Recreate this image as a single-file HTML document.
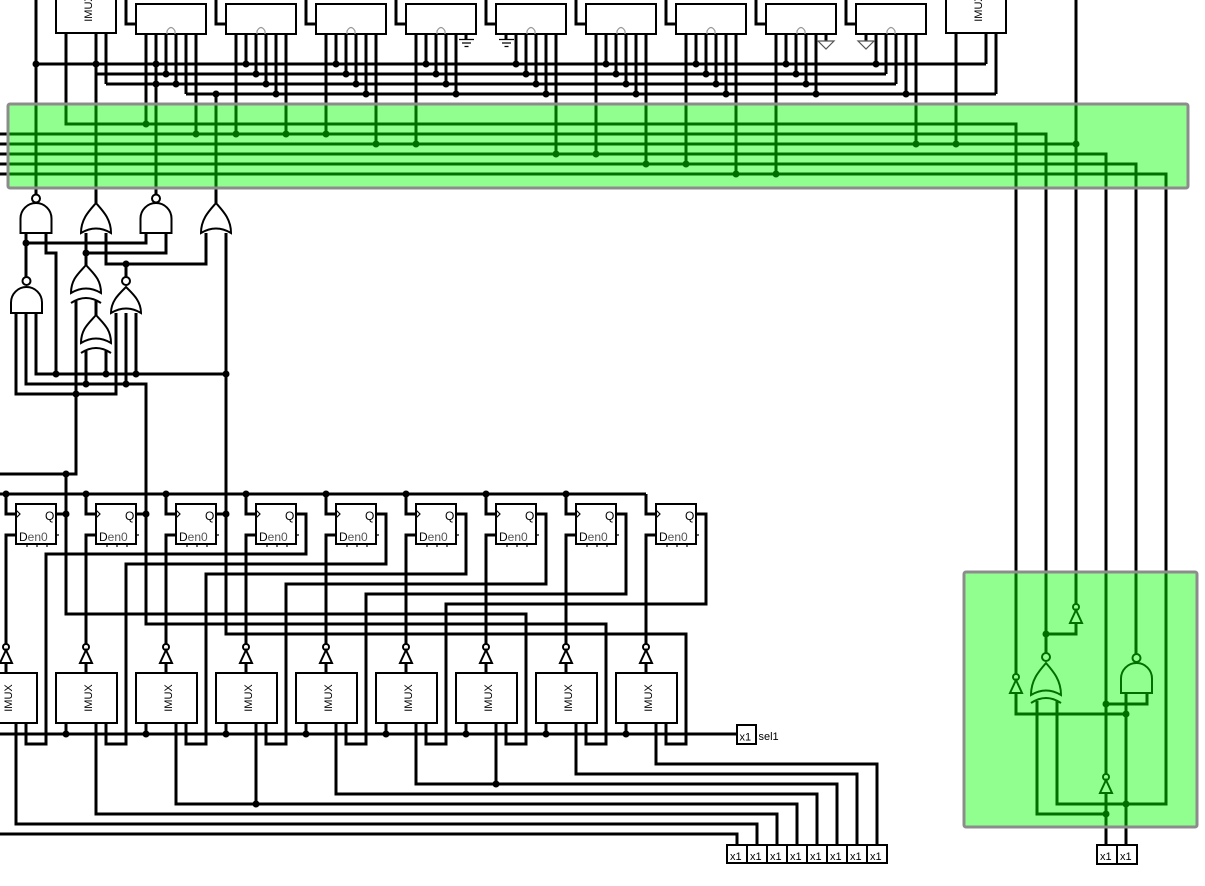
<!DOCTYPE html>
<html><head><meta charset="utf-8"><style>
html,body{margin:0;padding:0;background:#fff;width:1205px;height:886px;overflow:hidden}
svg{display:block}
.w{fill:none;stroke:#000;stroke-width:3;stroke-linejoin:miter}
.b{fill:#fff;stroke:#000;stroke-width:2}
.th{fill:none;stroke:#000;stroke-width:1.2}
.ar{fill:none;stroke:#999;stroke-width:1.2}
.t{font-family:"Liberation Sans",sans-serif;font-size:11px;fill:#000}
.f{font-family:"Liberation Sans",sans-serif;font-size:12px;fill:#000}
</style></head><body>
<svg width="1205" height="886" viewBox="0 0 1205 886" xmlns="http://www.w3.org/2000/svg">
<!-- TOP WIRES -->
<path class="w" d="M36,0V194 M126,0V24H136 M216,0V24H226 M306,0V24H316 M396,0V24H406 M486,0V24H496 M576,0V24H586 M666,0V24H676 M756,0V24H766 M846,0V24H856"/>
<path class="w" d="M146,34V124 M156,34V194 M166,34V74 M176,34V84 M186,34V94 M196,34V134
M236,34V134 M246,34V64 M256,34V74 M266,34V84 M276,34V94 M286,34V134
M326,34V134 M336,34V64 M346,34V74 M356,34V84 M366,34V94 M376,34V144
M416,34V144 M426,34V64 M436,34V74 M446,34V84 M456,34V94 M466,34V39
M506,34V39 M516,34V64 M526,34V74 M536,34V84 M546,34V94 M556,34V154
M596,34V154 M606,34V64 M616,34V74 M626,34V84 M636,34V94 M646,34V164
M686,34V164 M696,34V64 M706,34V74 M716,34V84 M726,34V94 M736,34V174
M776,34V174 M786,34V64 M796,34V74 M806,34V84 M816,34V94 M826,34V41
M866,34V41 M876,34V64 M886,34V74 M896,34V84 M906,34V94 M916,34V144
M956,33V144 M986,33V64 M996,33V94
M36,64H986 M96,74H886 M106,84H896 M186,94H996
M66,33V124H1016V674 M96,33V203 M106,33V84 M216,94V203"/>
<!-- green bus lines -->
<path class="w" d="M0,134H1046V653 M0,144H1076 M0,154H1106V774 M1106,793V845 M0,164H1136V654 M0,174H1166V804H1057V701 M1076,0V604"/>
<!-- right box wires -->
<path class="w" d="M1016,693V714H1126 M1046,634H1076V623 M1037,701V814H1106 M1126,693V845 M1147,693V704H1106"/>
<!-- gate region wires -->
<path class="w" d="M26,233V277 M26,243H146V233 M46,233V253H56V374 M166,233V253H86 M86,233V265 M106,233V264H206V233 M126,264V277
M226,233V634H686V744H666V723 M16,313V394H116V313 M26,313V384H146V624H606V744H586V723 M36,313V374H226
M76,301V474H0 M66,474V614H526V744H506V723 M96,301V315 M86,351V384 M106,351V374 M126,313V384 M136,313V374"/>
<!-- FF wires -->
<path class="w" d="M0,494H646
M6,494V514H16 M16,535H6V644 M56,514H66
M86,494V514H96 M96,535H86V644 M136,514H146
M166,494V514H176 M176,535H166V644 M216,514H226
M246,494V514H256 M256,535H246V644 M296,514H306V554H46V744H26V723
M326,494V514H336 M336,535H326V644 M376,514H386V564H126V744H106V723
M406,494V514H416 M416,535H406V644 M456,514H466V574H206V744H186V723
M486,494V514H496 M496,535H486V644 M536,514H546V584H286V744H266V723
M566,494V514H576 M576,535H566V644 M616,514H626V594H366V744H346V723
M646,494V514H656 M656,535H646V644 M696,514H706V604H446V744H426V723"/>
<!-- MUX wires -->
<path class="w" d="M0,734H737 M66,723V734 M146,723V734 M226,723V734 M306,723V734 M386,723V734 M466,723V734 M546,723V734 M626,723V734
M6,663V673 M86,663V673 M166,663V673 M246,663V673 M326,663V673 M406,663V673 M486,663V673 M566,663V673 M646,663V673
M16,723V824H757V845 M96,723V814H777V845 M176,723V804H797V845 M256,723V804 M336,723V794H817V845
M416,723V784H837V845 M496,723V784 M576,723V774H857V845 M656,723V764H877V845 M0,834H737V845"/>

<!-- DOTS -->
<g fill="#000">
<circle cx="36" cy="64" r="3.5"/><circle cx="96" cy="64" r="3.5"/><circle cx="156" cy="64" r="3.5"/><circle cx="246" cy="64" r="3.5"/><circle cx="336" cy="64" r="3.5"/><circle cx="426" cy="64" r="3.5"/><circle cx="516" cy="64" r="3.5"/><circle cx="606" cy="64" r="3.5"/><circle cx="696" cy="64" r="3.5"/><circle cx="786" cy="64" r="3.5"/><circle cx="876" cy="64" r="3.5"/>
<circle cx="166" cy="74" r="3.5"/><circle cx="256" cy="74" r="3.5"/><circle cx="346" cy="74" r="3.5"/><circle cx="436" cy="74" r="3.5"/><circle cx="526" cy="74" r="3.5"/><circle cx="616" cy="74" r="3.5"/><circle cx="706" cy="74" r="3.5"/><circle cx="796" cy="74" r="3.5"/>
<circle cx="156" cy="84" r="3.5"/><circle cx="176" cy="84" r="3.5"/><circle cx="266" cy="84" r="3.5"/><circle cx="356" cy="84" r="3.5"/><circle cx="446" cy="84" r="3.5"/><circle cx="536" cy="84" r="3.5"/><circle cx="626" cy="84" r="3.5"/><circle cx="716" cy="84" r="3.5"/><circle cx="806" cy="84" r="3.5"/>
<circle cx="216" cy="94" r="3.5"/><circle cx="276" cy="94" r="3.5"/><circle cx="366" cy="94" r="3.5"/><circle cx="456" cy="94" r="3.5"/><circle cx="546" cy="94" r="3.5"/><circle cx="636" cy="94" r="3.5"/><circle cx="726" cy="94" r="3.5"/><circle cx="816" cy="94" r="3.5"/><circle cx="906" cy="94" r="3.5"/>
<circle cx="146" cy="124" r="3.5"/><circle cx="196" cy="134" r="3.5"/><circle cx="236" cy="134" r="3.5"/><circle cx="286" cy="134" r="3.5"/><circle cx="326" cy="134" r="3.5"/>
<circle cx="376" cy="144" r="3.5"/><circle cx="416" cy="144" r="3.5"/><circle cx="916" cy="144" r="3.5"/><circle cx="956" cy="144" r="3.5"/><circle cx="1076" cy="144" r="3.5"/>
<circle cx="556" cy="154" r="3.5"/><circle cx="596" cy="154" r="3.5"/><circle cx="646" cy="164" r="3.5"/><circle cx="686" cy="164" r="3.5"/><circle cx="736" cy="174" r="3.5"/><circle cx="776" cy="174" r="3.5"/>
<circle cx="26" cy="243" r="3.5"/><circle cx="86" cy="253" r="3.5"/><circle cx="126" cy="264" r="3.5"/><circle cx="76" cy="394" r="3.5"/><circle cx="86" cy="384" r="3.5"/><circle cx="126" cy="384" r="3.5"/><circle cx="56" cy="374" r="3.5"/><circle cx="106" cy="374" r="3.5"/><circle cx="136" cy="374" r="3.5"/><circle cx="226" cy="374" r="3.5"/><circle cx="66" cy="474" r="3.5"/>
<circle cx="6" cy="494" r="3.5"/><circle cx="86" cy="494" r="3.5"/><circle cx="166" cy="494" r="3.5"/><circle cx="246" cy="494" r="3.5"/><circle cx="326" cy="494" r="3.5"/><circle cx="406" cy="494" r="3.5"/><circle cx="486" cy="494" r="3.5"/><circle cx="566" cy="494" r="3.5"/>
<circle cx="66" cy="514" r="3.5"/><circle cx="146" cy="514" r="3.5"/><circle cx="226" cy="514" r="3.5"/>
<circle cx="66" cy="734" r="3.5"/><circle cx="146" cy="734" r="3.5"/><circle cx="226" cy="734" r="3.5"/><circle cx="306" cy="734" r="3.5"/><circle cx="386" cy="734" r="3.5"/><circle cx="466" cy="734" r="3.5"/><circle cx="546" cy="734" r="3.5"/><circle cx="626" cy="734" r="3.5"/>
<circle cx="256" cy="804" r="3.5"/><circle cx="496" cy="784" r="3.5"/>
<circle cx="1046" cy="634" r="3.5"/><circle cx="1126" cy="714" r="3.5"/><circle cx="1106" cy="704" r="3.5"/><circle cx="1126" cy="804" r="3.5"/><circle cx="1106" cy="814" r="3.5"/>
</g>

<!-- TOP BOXES -->
<rect class="b" x="56" y="-20" width="60" height="53"/>
<text class="t" transform="translate(92,8) rotate(-90)" text-anchor="middle">IMUX</text>
<rect class="b" x="946" y="-20" width="60" height="53"/>
<text class="t" transform="translate(982,8) rotate(-90)" text-anchor="middle">IMUX</text>
<g>
<rect class="b" x="136" y="4" width="70" height="30"/><rect class="b" x="226" y="4" width="70" height="30"/><rect class="b" x="316" y="4" width="70" height="30"/><rect class="b" x="406" y="4" width="70" height="30"/><rect class="b" x="496" y="4" width="70" height="30"/><rect class="b" x="586" y="4" width="70" height="30"/><rect class="b" x="676" y="4" width="70" height="30"/><rect class="b" x="766" y="4" width="70" height="30"/><rect class="b" x="856" y="4" width="70" height="30"/>
</g>
<path class="ar" d="M167,34V31Q171,24 175,31V34 M257,34V31Q261,24 265,31V34 M347,34V31Q351,24 355,31V34 M437,34V31Q441,24 445,31V34 M527,34V31Q531,24 535,31V34 M617,34V31Q621,24 625,31V34 M707,34V31Q711,24 715,31V34 M797,34V31Q801,24 805,31V34 M887,34V31Q891,24 895,31V34"/>
<!-- grounds -->
<path class="th" d="M459,39.5H474 M462,43H471 M464.5,46.5H468.5 M499,39.5H514 M502,43H511 M504.5,46.5H508.5"/>
<polygon points="818,41 834,41 826,49" fill="#fff" stroke="#555" stroke-width="1.2"/>
<polygon points="858,41 874,41 866,49" fill="#fff" stroke="#555" stroke-width="1.2"/>

<!-- GATES -->
<g fill="#fff" stroke="#000" stroke-width="2">
<path d="M20.5,233V218.5A15.5,15.5 0 0 1 51.5,218.5V233Z"/><circle cx="36" cy="198.5" r="4"/>
<path d="M140.5,233V218.5A15.5,15.5 0 0 1 171.5,218.5V233Z"/><circle cx="156" cy="198.5" r="4"/>
<path d="M11,313V302.5A15.5,15.5 0 0 1 42,302.5V313Z"/><circle cx="26.5" cy="281" r="4"/>
<path d="M81,233C81,219 89,211 96,203C103,211 111,219 111,233Q96,224 81,233Z"/>
<path d="M201,233C201,219 209,211 216,203C223,211 231,219 231,233Q216,224 201,233Z"/>
<path d="M71,293C71,279 79,273 86,265C93,273 101,279 101,293Q86,284 71,293Z"/><path d="M71,303Q86,293 101,303" fill="none"/>
<path d="M81,343C81,329 89,323 96,315C103,323 111,329 111,343Q96,334 81,343Z"/><path d="M81,353Q96,343 111,353" fill="none"/>
<path d="M111,313C111,301 119,294 126,287C133,294 141,301 141,313Q126,304 111,313Z"/><circle cx="126" cy="281" r="4"/>
<!-- right box gates -->
<path d="M1121,693V678.5A15.5,15.5 0 0 1 1152,678.5V693Z"/><circle cx="1136.5" cy="658" r="4"/>
<path d="M1031,695C1031,680 1039,671 1046,663C1053,671 1061,680 1061,695Q1046,686 1031,695Z"/><path d="M1031,703Q1046,693 1061,703" fill="none"/><circle cx="1046" cy="657" r="4"/>
<circle cx="1016" cy="677" r="3"/><polygon points="1016,680 1010,693 1022,693"/>
<circle cx="1076" cy="607" r="3"/><polygon points="1076,610 1070,623 1082,623"/>
<circle cx="1106" cy="777" r="3"/><polygon points="1106,780 1100,793 1112,793"/>
<!-- MUX inverters -->
<circle cx="6" cy="647" r="3"/><polygon points="6,650 0,663 12,663"/>
<circle cx="86" cy="647" r="3"/><polygon points="86,650 80,663 92,663"/>
<circle cx="166" cy="647" r="3"/><polygon points="166,650 160,663 172,663"/>
<circle cx="246" cy="647" r="3"/><polygon points="246,650 240,663 252,663"/>
<circle cx="326" cy="647" r="3"/><polygon points="326,650 320,663 332,663"/>
<circle cx="406" cy="647" r="3"/><polygon points="406,650 400,663 412,663"/>
<circle cx="486" cy="647" r="3"/><polygon points="486,650 480,663 492,663"/>
<circle cx="566" cy="647" r="3"/><polygon points="566,650 560,663 572,663"/>
<circle cx="646" cy="647" r="3"/><polygon points="646,650 640,663 652,663"/>
</g>

<!-- FLIP FLOPS -->
<g>
<rect class="b" x="16" y="504" width="40" height="40"/><rect class="b" x="96" y="504" width="40" height="40"/><rect class="b" x="176" y="504" width="40" height="40"/><rect class="b" x="256" y="504" width="40" height="40"/><rect class="b" x="336" y="504" width="40" height="40"/><rect class="b" x="416" y="504" width="40" height="40"/><rect class="b" x="496" y="504" width="40" height="40"/><rect class="b" x="576" y="504" width="40" height="40"/><rect class="b" x="656" y="504" width="40" height="40"/>
</g>
<path class="th" stroke-width="1.5" d="M16,510L20,514L16,518 M96,510L100,514L96,518 M176,510L180,514L176,518 M256,510L260,514L256,518 M336,510L340,514L336,518 M416,510L420,514L416,518 M496,510L500,514L496,518 M576,510L580,514L576,518 M656,510L660,514L656,518
M56,535H59 M136,535H139 M216,535H219 M296,535H299 M376,535H379 M456,535H459 M536,535H539 M616,535H619 M696,535H699
M27,544V547 M37,544V547 M47,544V547 M107,544V547 M117,544V547 M127,544V547 M187,544V547 M197,544V547 M207,544V547 M267,544V547 M277,544V547 M287,544V547 M347,544V547 M357,544V547 M367,544V547 M427,544V547 M437,544V547 M447,544V547 M507,544V547 M517,544V547 M527,544V547 M587,544V547 M597,544V547 M607,544V547 M667,544V547 M677,544V547 M687,544V547"/>
<g class="f">
<text x="45" y="520">Q</text><text x="125" y="520">Q</text><text x="205" y="520">Q</text><text x="285" y="520">Q</text><text x="365" y="520">Q</text><text x="445" y="520">Q</text><text x="525" y="520">Q</text><text x="605" y="520">Q</text><text x="685" y="520">Q</text>
<text x="19" y="541">D<tspan fill="#555">en0</tspan></text><text x="99" y="541">D<tspan fill="#555">en0</tspan></text><text x="179" y="541">D<tspan fill="#555">en0</tspan></text><text x="259" y="541">D<tspan fill="#555">en0</tspan></text><text x="339" y="541">D<tspan fill="#555">en0</tspan></text><text x="419" y="541">D<tspan fill="#555">en0</tspan></text><text x="499" y="541">D<tspan fill="#555">en0</tspan></text><text x="579" y="541">D<tspan fill="#555">en0</tspan></text><text x="659" y="541">D<tspan fill="#555">en0</tspan></text>
</g>

<!-- MUX BOXES -->
<g>
<rect class="b" x="-24" y="673" width="61" height="50"/><rect class="b" x="56" y="673" width="61" height="50"/><rect class="b" x="136" y="673" width="61" height="50"/><rect class="b" x="216" y="673" width="61" height="50"/><rect class="b" x="296" y="673" width="61" height="50"/><rect class="b" x="376" y="673" width="61" height="50"/><rect class="b" x="456" y="673" width="61" height="50"/><rect class="b" x="536" y="673" width="61" height="50"/><rect class="b" x="616" y="673" width="61" height="50"/>
</g>
<g class="t" text-anchor="middle">
<text transform="translate(12,698) rotate(-90)">IMUX</text><text transform="translate(92,698) rotate(-90)">IMUX</text><text transform="translate(172,698) rotate(-90)">IMUX</text><text transform="translate(252,698) rotate(-90)">IMUX</text><text transform="translate(332,698) rotate(-90)">IMUX</text><text transform="translate(412,698) rotate(-90)">IMUX</text><text transform="translate(492,698) rotate(-90)">IMUX</text><text transform="translate(572,698) rotate(-90)">IMUX</text><text transform="translate(652,698) rotate(-90)">IMUX</text>
</g>

<!-- x1 pins -->
<rect class="b" x="737" y="725" width="19" height="19"/>
<text class="t" x="739.5" y="740.5">x1</text>
<text class="t" x="758.5" y="740">sel1</text>
<g>
<rect class="b" x="727" y="845" width="20" height="18"/><rect class="b" x="747" y="845" width="20" height="18"/><rect class="b" x="767" y="845" width="20" height="18"/><rect class="b" x="787" y="845" width="20" height="18"/><rect class="b" x="807" y="845" width="20" height="18"/><rect class="b" x="827" y="845" width="20" height="18"/><rect class="b" x="847" y="845" width="20" height="18"/><rect class="b" x="867" y="845" width="20" height="18"/>
<rect class="b" x="1097" y="845" width="20" height="19"/><rect class="b" x="1117" y="845" width="20" height="19"/>
</g>
<g class="t">
<text x="730" y="860">x1</text><text x="750" y="860">x1</text><text x="770" y="860">x1</text><text x="790" y="860">x1</text><text x="810" y="860">x1</text><text x="830" y="860">x1</text><text x="850" y="860">x1</text><text x="870" y="860">x1</text>
<text x="1100" y="860">x1</text><text x="1120" y="860">x1</text>
</g>

<!-- GREEN OVERLAYS -->
<rect x="8" y="104" width="1180" height="84" rx="2" fill="rgba(0,255,0,0.435)" stroke="#8c8c8c" stroke-width="3"/>
<rect x="964" y="572" width="233" height="255" rx="2" fill="rgba(0,255,0,0.435)" stroke="#8c8c8c" stroke-width="3"/>
</svg>
</body></html>
